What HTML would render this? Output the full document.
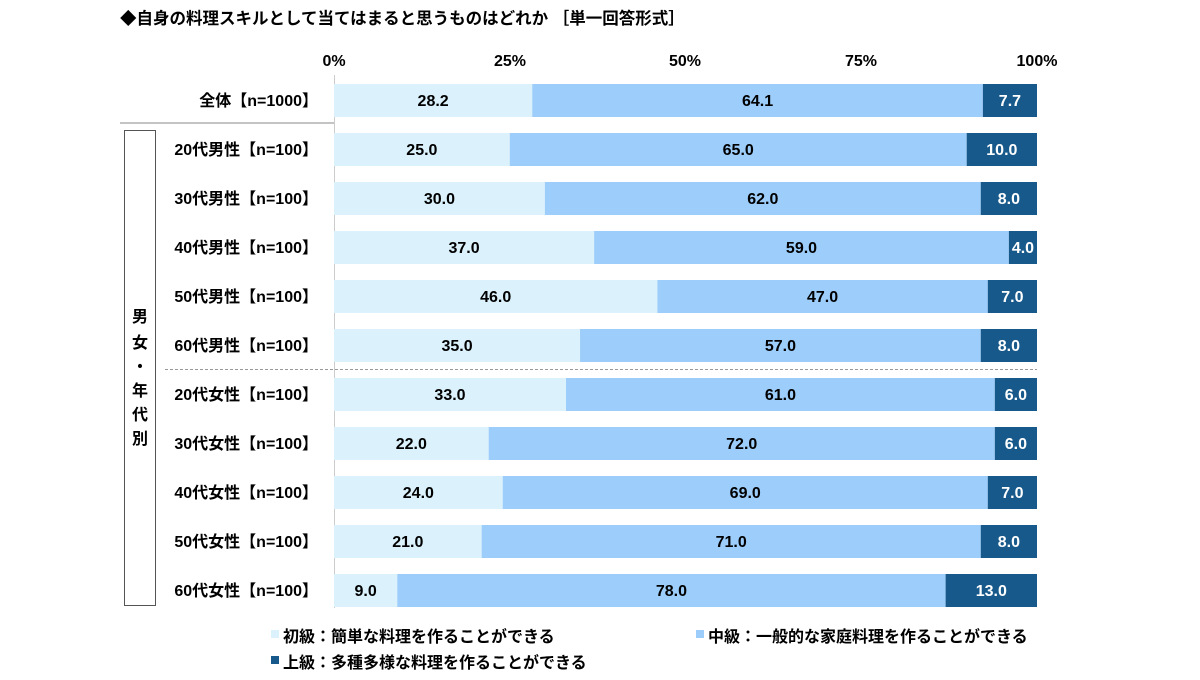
<!DOCTYPE html>
<html><head><meta charset="utf-8"><style>
body{margin:0;background:#fff}
svg text{font-family:"Liberation Sans","Noto Sans CJK JP",sans-serif;font-weight:bold}
</style></head><body>
<svg width="1200" height="675" xmlns="http://www.w3.org/2000/svg">
<text x="120" y="24" font-size="16.5" fill="#000">◆自身の料理スキルとして当てはまると思うものはどれか ［単一回答形式］</text>
<g font-size="16" text-anchor="middle" fill="#000">
<text x="334" y="66">0%</text><text x="510" y="66">25%</text><text x="685" y="66">50%</text><text x="861" y="66">75%</text><text x="1037" y="66">100%</text>
</g>
<line x1="334.5" y1="75" x2="334.5" y2="608" stroke="#ccc"/>
<line x1="120" y1="123" x2="334" y2="123" stroke="#888"/>
<line x1="165" y1="369.5" x2="1037" y2="369.5" stroke="#999" stroke-dasharray="3,2"/>
<rect x="124.5" y="130.5" width="31" height="475" fill="none" stroke="#555"/>
<g font-size="16" text-anchor="middle"><text x="140" y="322">男</text><text x="140" y="348">女</text><text x="140" y="372">・</text><text x="140" y="396">年</text><text x="140" y="420">代</text><text x="140" y="444">別</text></g>
<g id="bars" font-size="16"></g>
<g font-size="16">
<rect x="271" y="630" width="8" height="8" fill="#dbf2fc"/><text x="283" y="642">初級：簡単な料理を作ることができる</text>
<rect x="696" y="630" width="8" height="8" fill="#9dcdfa"/><text x="708" y="642">中級：一般的な家庭料理を作ることができる</text>
<rect x="271" y="656" width="8" height="8" fill="#17598a"/><text x="283" y="668">上級：多種多様な料理を作ることができる</text>
</g>
</svg>
<script>
const rows=[["全体【n=1000】",28.2,64.1,7.7],["20代男性【n=100】",25,65,10],["30代男性【n=100】",30,62,8],["40代男性【n=100】",37,59,4],["50代男性【n=100】",46,47,7],["60代男性【n=100】",35,57,8],["20代女性【n=100】",33,61,6],["30代女性【n=100】",22,72,6],["40代女性【n=100】",24,69,7],["50代女性【n=100】",21,71,8],["60代女性【n=100】",9,78,13]];
const cols=["#dbf2fc","#9dcdfa","#17598a"],tc=["#000","#000","#fff"];
let h="",x0=334,W=703;
rows.forEach((r,i)=>{const cy=100+i*49;h+=`<text x="318" y="${cy+6}" text-anchor="end">${r[0]}</text>`;let x=x0;
for(let k=0;k<3;k++){const w=r[k+1]/100*W;h+=`<rect x="${x}" y="${cy-16}" width="${w}" height="33" fill="${cols[k]}"/>`;
h+=`<text x="${x+w/2}" y="${cy+6}" text-anchor="middle" fill="${tc[k]}">${r[k+1].toFixed(1)}</text>`;x+=w;}});
document.getElementById("bars").innerHTML=h;
</script>
</body></html>
